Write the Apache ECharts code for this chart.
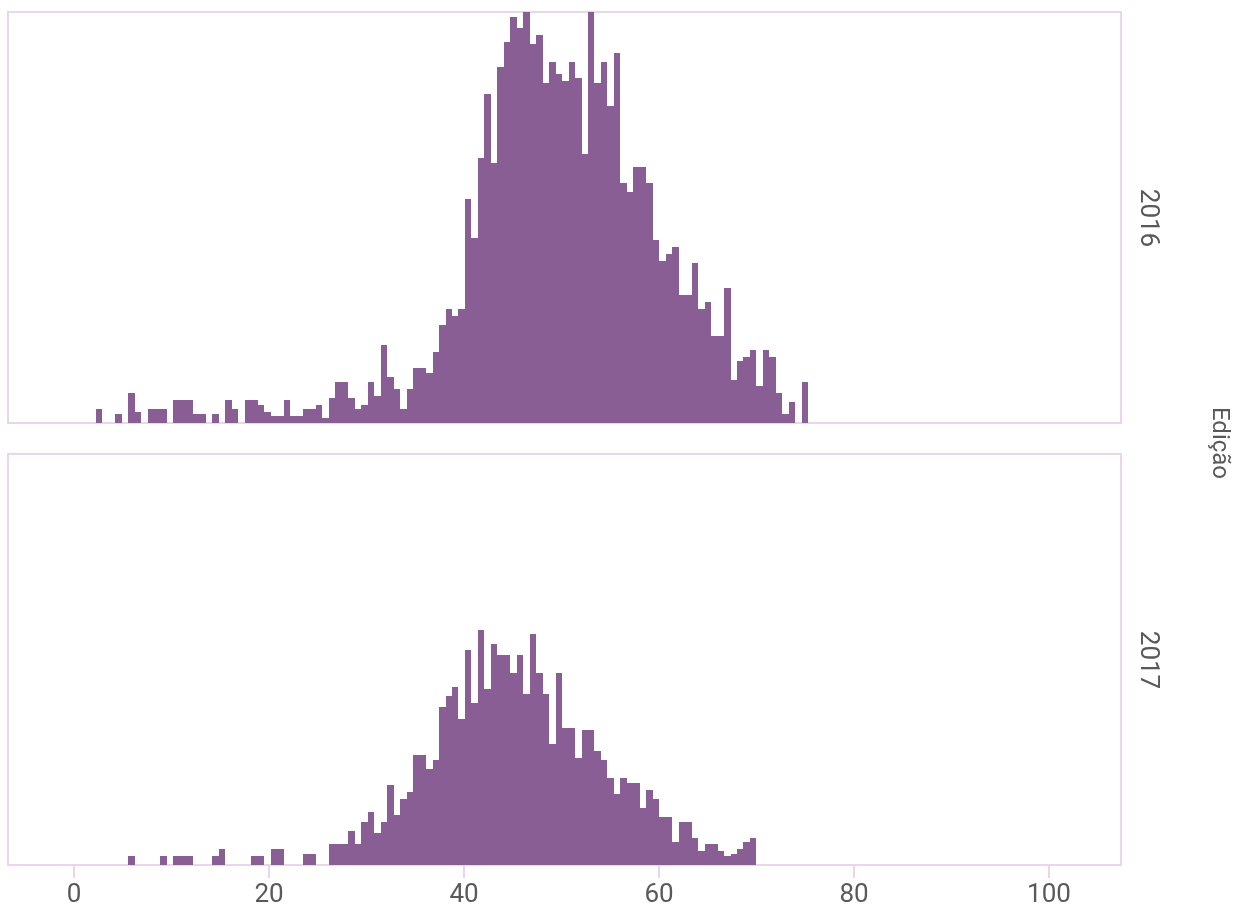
<!DOCTYPE html>
<html>
<head>
<meta charset="utf-8">
<script src="https://cdn.jsdelivr.net/npm/echarts@6/dist/echarts.min.js"></script>
<style>
  html, body { margin: 0; padding: 0; background: #ffffff; }
  #chart { width: 1242px; height: 909px; }
</style>
</head>
<body>
<div id="chart"></div>
<script>
// Histogram of scores per edition, shared bins across both facets.
const editions = ['2016', '2017'];
const binStart = 2.226;   // lower edge of the first bin
const binWidth = 0.6644;  // width of each bin (score units)
const xTicks = [0, 20, 40, 60, 80, 100];

// Counts per bin, bin 0 starts at binStart
const counts2016 = [
  6, 0, 0, 4, 0, 13, 5, 0, 6, 6,
  6, 0, 10, 10, 10, 4, 4, 0, 4, 0,
  10, 6, 0, 10, 10, 8, 5, 3, 3, 10,
  3, 3, 6, 6, 8, 2, 11, 18, 18, 11,
  6, 8, 18, 12, 34, 20, 15, 6, 15, 24,
  24, 22, 31, 43, 50, 47, 50, 98, 81, 116,
  144, 114, 156, 167, 178, 173, 180, 166, 170, 149,
  158, 153, 150, 158, 151, 118, 180, 149, 158, 139,
  162, 105, 101, 112, 112, 105, 80, 71, 74, 77,
  56, 56, 70, 50, 53, 38, 38, 59, 19, 27,
  29, 32, 16, 32, 29, 13, 4, 9, 0, 18
];
const counts2017 = [
  0, 0, 0, 0, 0, 4, 0, 0, 0, 0,
  4, 0, 4, 4, 4, 0, 0, 0, 4, 7,
  0, 0, 0, 0, 4, 4, 0, 7, 7, 0,
  0, 0, 5, 5, 0, 0, 9, 9, 9, 15,
  9, 19, 23, 14, 19, 35, 22, 29, 32, 48,
  48, 42, 46, 69, 74, 78, 64, 94, 71, 103,
  77, 97, 92, 92, 84, 92, 75, 101, 84, 75,
  53, 84, 60, 60, 47, 59, 59, 50, 46, 38,
  31, 38, 36, 36, 25, 33, 29, 21, 21, 10,
  19, 19, 12, 6, 9, 9, 6, 4, 5, 7,
  10, 12
];
const yMax = 180;

const barColor = '#895e95';
const frameColor = '#ead6ea';
const textColor = '#595959';

function toBins(counts) {
  const out = [];
  counts.forEach(function (c, i) {
    if (c > 0) {
      const lo = binStart + i * binWidth;
      out.push([lo, lo + binWidth, c]);
    }
  });
  return out;
}

// Bars snapped to whole pixels so neighbouring bins join without seams
function renderBin(params, api) {
  const p0 = api.coord([api.value(0), 0]);
  const p1 = api.coord([api.value(1), api.value(2)]);
  const left = Math.round(p0[0]);
  const right = Math.round(p1[0]);
  const top = Math.round(p1[1]);
  const base = Math.round(p0[1]);
  return {
    type: 'rect',
    shape: { x: left, y: top, width: right - left, height: base - top },
    style: { fill: barColor }
  };
}

const xMin = -6.769;
const xMax = 107.385;

const chart = echarts.init(document.getElementById('chart'), null, { renderer: 'canvas' });

const gridTemplate = { left: 8, width: 1113, height: 411, show: true, borderColor: frameColor, borderWidth: 2, containLabel: false };

chart.setOption({
  animation: false,
  backgroundColor: '#ffffff',
  grid: [
    Object.assign({ top: 12 }, gridTemplate),
    Object.assign({ top: 454 }, gridTemplate)
  ],
  xAxis: [
    { type: 'value', gridIndex: 0, min: xMin, max: xMax, axisLine: { show: false }, axisTick: { show: false }, axisLabel: { show: false }, splitLine: { show: false } },
    {
      type: 'value', gridIndex: 1, min: xMin, max: xMax,
      axisLine: { show: false },
      splitLine: { show: false },
      axisTick: { show: true, customValues: xTicks, length: 13, lineStyle: { color: frameColor, width: 2 } },
      axisLabel: { show: true, customValues: xTicks, margin: 17, color: textColor, fontSize: 26, fontFamily: 'Roboto' }
    }
  ],
  yAxis: [
    { type: 'value', gridIndex: 0, min: 0, max: yMax, show: false },
    { type: 'value', gridIndex: 1, min: 0, max: yMax, show: false }
  ],
  series: [
    { type: 'custom', name: editions[0], xAxisIndex: 0, yAxisIndex: 0, renderItem: renderBin, encode: { x: [0, 1], y: 2 }, data: toBins(counts2016) },
    { type: 'custom', name: editions[1], xAxisIndex: 1, yAxisIndex: 1, renderItem: renderBin, encode: { x: [0, 1], y: 2 }, data: toBins(counts2017) }
  ],
  graphic: [
    { type: 'text', x: 1147, y: 218, rotation: -Math.PI / 2, style: { text: editions[0], fill: textColor, font: '26px Roboto', align: 'center', verticalAlign: 'middle' } },
    { type: 'text', x: 1147, y: 660, rotation: -Math.PI / 2, style: { text: editions[1], fill: textColor, font: '26px Roboto', align: 'center', verticalAlign: 'middle' } },
    { type: 'text', x: 1219, y: 443, rotation: -Math.PI / 2, style: { text: 'Edição', fill: textColor, font: '24px Roboto', align: 'center', verticalAlign: 'middle' } }
  ]
});
</script>
</body>
</html>
